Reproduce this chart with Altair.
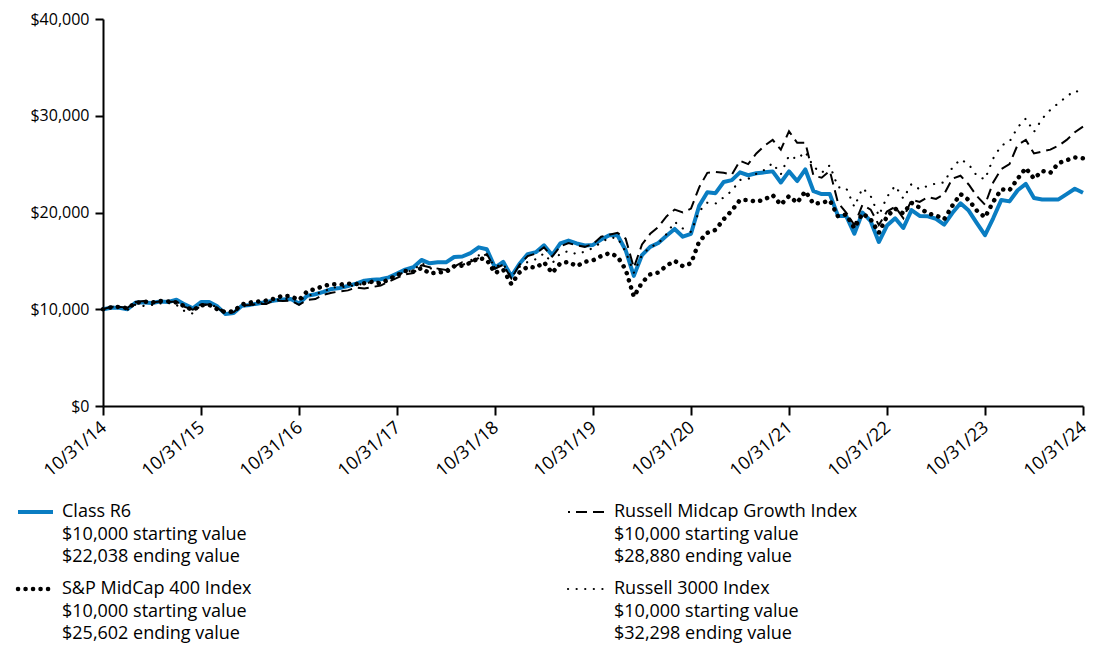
import json
import altair as alt
import pandas as pd

months = list(range(121))
tick_labels = ["10/31/14", "10/31/15", "10/31/16", "10/31/17", "10/31/18", "10/31/19",
               "10/31/20", "10/31/21", "10/31/22", "10/31/23", "10/31/24"]

class_r6 = [
    10000, 10150, 10150, 10000, 10700, 10700, 10650, 10800, 10750, 10980, 10500, 10100,
    10750, 10750, 10300, 9500, 9600, 10350, 10450, 10600, 10750, 10900, 11000, 11050,
    10600, 11400, 11550, 11800, 12100, 12200, 12400, 12650, 12950, 13050, 13100, 13300,
    13700, 14100, 14350, 15100, 14750, 14850, 14850, 15400, 15450, 15800, 16400, 16200,
    14300, 14900, 13400, 14700, 15700, 15900, 16600, 15600, 16800, 17100, 16800, 16600,
    16650, 17200, 17650, 17650, 16100, 13450, 15600, 16450, 16850, 17600, 18300, 17500,
    17800, 20700, 22100, 22000, 23150, 23350, 24150, 23850, 24050, 24150, 24250, 23100,
    24250, 23250, 24450, 22200, 21900, 21900, 19650, 19650, 17800, 20000, 19100, 16950,
    18650, 19400, 18400, 20250, 19650, 19600, 19350, 18750, 19950, 20950, 20200, 18900,
    17650, 19400, 21300, 21150, 22300, 22950, 21500, 21350, 21350, 21350, 21900, 22450,
    22038]

sp400 = [
    10000, 10200, 10250, 10100, 10650, 10800, 10700, 10850, 10800, 10700, 10300, 9900,
    10400, 10450, 10000, 9700, 9800, 10500, 10700, 10800, 10900, 11100, 11400, 11350,
    10950, 11850, 12100, 12400, 12600, 12550, 12650, 12600, 12700, 12850, 12650, 13100,
    13500, 13950, 13900, 14250, 13700, 13800, 13850, 14450, 14500, 14800, 15300, 15100,
    13750, 14100, 12600, 13800, 14400, 14300, 14850, 13750, 14750, 14900, 14450, 14900,
    15050, 15500, 15800, 15450, 14100, 11300, 12750, 13600, 13800, 14500, 15000, 14450,
    14750, 17000, 17900, 18200, 19300, 20200, 21300, 21300, 21100, 21350, 21800, 20800,
    21700, 21000, 22200, 20900, 21000, 21250, 19600, 19800, 18400, 19900, 19300, 17900,
    19600, 20400, 19900, 21000, 20500, 19900, 19700, 19300, 20700, 21900, 21300, 20200,
    19500, 21100, 22400, 22300, 23500, 24600, 23500, 24300, 24100, 25100, 25400, 25700,
    25602]

rmg = [
    10000, 10250, 10250, 10150, 10750, 10850, 10700, 10800, 10750, 10800, 10250, 9950,
    10500, 10500, 10150, 9500, 9700, 10400, 10450, 10550, 10550, 10950, 10850, 10900,
    10450, 10950, 11050, 11500, 11700, 11850, 11950, 12250, 12150, 12300, 12450, 12850,
    13250, 13600, 13750, 14550, 14350, 14200, 14050, 14400, 14850, 14900, 15300, 15700,
    14200, 14600, 13200, 14600, 15500, 15750, 16400, 15450, 16500, 16850, 16600, 16450,
    16750, 17500, 17700, 17900, 17300, 14300, 16700, 17800, 18500, 19600, 20300, 20000,
    20400, 22600, 24100, 24200, 24100, 23900, 25350, 25000, 26100, 26900, 27500, 26500,
    28400, 27200, 27200, 23800, 23600, 24300, 21000, 20000, 18700, 20800, 20300, 18700,
    20100, 20600, 19400, 21300, 21100, 21600, 21400, 21900, 23500, 23800, 22900, 21700,
    20800, 23100, 24500, 25000, 27000, 27500, 26100, 26300, 26500, 26900, 27500, 28300,
    28880]

r3000 = [
    10000, 10250, 10250, 9950, 10500, 10350, 10450, 10600, 10650, 10450, 9800, 9550,
    10450, 10450, 10250, 9700, 9650, 10300, 10400, 10600, 10600, 11000, 11020, 11120,
    10890, 11380, 11600, 11800, 12250, 12250, 12380, 12510, 12640, 12830, 12830, 13150,
    13500, 13880, 14010, 14800, 14250, 14050, 14100, 14450, 14550, 15050, 15560, 15620,
    14390, 14680, 13310, 14380, 14890, 15170, 15780, 14740, 15780, 16000, 15690, 15960,
    16330, 16910, 17390, 17380, 15950, 13770, 15600, 16430, 16790, 17760, 19040, 18350,
    17990, 20130, 21010, 20920, 21570, 22240, 23360, 23470, 24010, 24410, 25110, 23940,
    25890, 25510, 26270, 24720, 24100, 24890, 22610, 22530, 20590, 22530, 21700, 19670,
    21610, 22770, 21440, 22950, 22400, 22760, 23000, 23100, 24650, 25500, 24990, 23800,
    23420, 25580, 26930, 27320, 28800, 29710, 28330, 29690, 30610, 31310, 31990, 32600,
    32298]

series_names = ["Class R6", "S&P MidCap 400 Index", "Russell Midcap Growth Index", "Russell 3000 Index"]
start_values = ["$10,000", "$10,000", "$10,000", "$10,000"]
end_values = ["$22,038", "$25,602", "$28,880", "$32,298"]

FONT = "Open Sans"
BLUE = "#0a7dc2"

all_series = [class_r6, sp400, rmg, r3000]
rows = []
for name, vals in zip(series_names, all_series):
    for m, v in zip(months, vals):
        rows.append({"series": name, "month": m, "value": v})
df = pd.DataFrame(rows)

label_expr = json.dumps(tick_labels) + "[round(datum.value / 12)]"

x_enc = alt.X("month:Q",
              scale=alt.Scale(domain=[0, 120], nice=False, zero=False),
              axis=alt.Axis(values=list(range(0, 121, 12)), labelExpr=label_expr,
                            labelAngle=-40, labelAlign="right", labelBaseline="middle",
                            labelFontSize=18, tickSize=9, labelPadding=10, labelOffset=1,
                            grid=False),
              title=None)
y_enc = alt.Y("value:Q",
              scale=alt.Scale(domain=[0, 40000], nice=False),
              axis=alt.Axis(values=[0, 10000, 20000, 30000, 40000], format="$,.0f",
                            labelFontSize=16, tickSize=8, labelPadding=6, grid=False),
              title=None)

styles = {
    "Class R6": dict(color=BLUE, strokeWidth=4, strokeJoin="round"),
    "S&P MidCap 400 Index": dict(color="black", strokeWidth=4.5, strokeDash=[0.1, 7.4], strokeCap="round"),
    "Russell Midcap Growth Index": dict(color="black", strokeWidth=2, strokeDash=[11, 6]),
    "Russell 3000 Index": dict(color="black", strokeWidth=2.2, strokeDash=[0.1, 8.5], strokeCap="round"),
}

base = alt.Chart(df)
order = ["Class R6", "Russell Midcap Growth Index", "Russell 3000 Index", "S&P MidCap 400 Index"]
line_layers = [
    base.transform_filter(alt.datum.series == s).mark_line(**styles[s]).encode(x=x_enc, y=y_enc)
    for s in order
]

# legend (layout positions relative to plot origin)
one = alt.Data(values=[{}])
legend_layers = []
col_x = [(-85, -50), (465, 502)]
row_y = [493, 570]
line_gap = 22.5
positions = [(0, 0), (0, 1), (1, 0), (1, 1)]
for idx, name in enumerate(series_names):
    c, r = positions[idx]
    x0, x1 = col_x[c]
    y0 = row_y[r]
    st = dict(styles[name])
    st.pop("strokeJoin", None)
    if name == "Russell Midcap Growth Index":
        st["strokeDashOffset"] = 9
    legend_layers.append(
        alt.Chart(one).mark_rule(**st).encode(x=alt.value(x0), x2=alt.value(x1), y=alt.value(y0))
    )
    texts = [name, f"{start_values[idx]} starting value", f"{end_values[idx]} ending value"]
    for k, t in enumerate(texts):
        legend_layers.append(
            alt.Chart(one).mark_text(align="left", baseline="middle", font=FONT, fontSize=18,
                                     color="black").encode(
                x=alt.value(x1 + 9), y=alt.value(y0 + k * line_gap), text=alt.value(t))
        )

chart = alt.layer(*line_layers, *legend_layers).properties(
    width=980, height=387,
    autosize=alt.AutoSizeParams(type="none"),
    padding={"left": 95, "top": 11, "right": 9, "bottom": 239},
).configure_view(stroke=None).configure_axis(
    labelFont=FONT, labelColor="black",
    domainColor="black", tickColor="black", domainWidth=2, tickWidth=2,
)

chart.save("out.html", embed_options={"renderer": "svg", "actions": False})
